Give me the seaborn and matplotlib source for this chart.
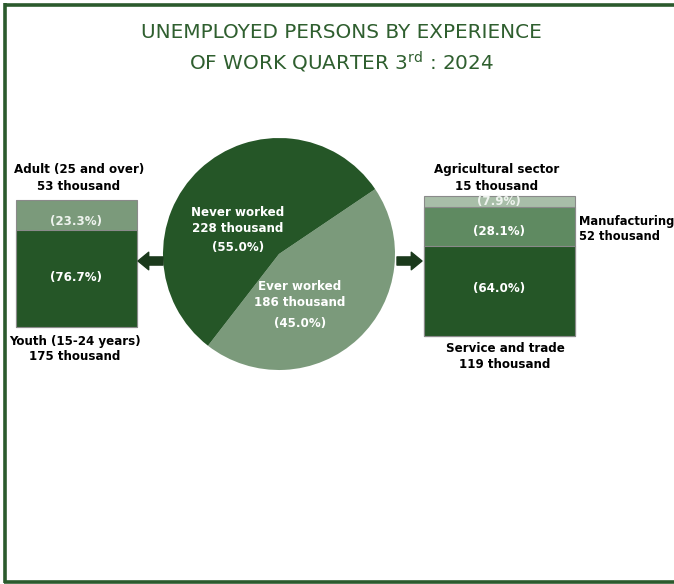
import matplotlib
matplotlib.use("Agg")
import matplotlib.pyplot as plt
import seaborn as sns
import pandas as pd
from matplotlib.lines import Line2D

sns.set_theme(style="white")
plt.rcParams["font.family"] = ["DejaVu Sans"]
plt.rcParams["mathtext.fontset"] = "custom"
plt.rcParams["mathtext.rm"] = "DejaVu Sans"

# ---------------- data ----------------
pie_labels = ["Ever worked", "Never worked"]
pie_thousand = [186, 228]
pie_pct = [45.0, 55.0]

left_labels = ["Youth (15-24 years)", "Adult (25 and over)"]
left_thousand = [175, 53]
left_pct = [76.7, 23.3]

right_labels = ["Service and trade", "Manufacturing", "Agricultural sector"]
right_thousand = [119, 52, 15]
right_pct = [64.0, 28.1, 7.9]

# ---------------- style ----------------
W, H = 674, 584
DARK = "#255627"
PIE_LIGHT = "#7b9a7b"
LEFT_LIGHT = "#7b9a7b"
MANUF = "#5f8a61"
AGRI = "#a8bea8"
TITLE_C = "#2f5f2f"
ARROW_C = "#1b3a1c"
FRAME_C = "#2b5a2d"

fig = plt.figure(figsize=(W / 100, H / 100), dpi=100)
fig.patch.set_facecolor("white")


def fx(x):
    return x / W


def fy(y):
    return 1 - y / H


def add_axes_px(x0, y0, x1, y1):
    return fig.add_axes([fx(x0), fy(y1), fx(x1 - x0), (y1 - y0) / H])


def stacked_bar(ax, pcts, colors):
    cum = pd.Series(pcts).cumsum().tolist()
    for top, col in reversed(list(zip(cum, colors))):
        df = pd.DataFrame({"g": ["a"], "v": [top]})
        sns.barplot(data=df, x="g", y="v", color=col, width=1.0, ax=ax,
                    edgecolor="#8a8a8a", linewidth=0.8, saturation=1, clip_on=False)
    ax.set_ylim(0, 100)
    ax.set_xlim(-0.5, 0.5)
    ax.axis("off")


# left stacked bar
axL = add_axes_px(16, 200, 137, 327)
stacked_bar(axL, left_pct, [DARK, LEFT_LIGHT])

# right stacked bar
axR = add_axes_px(424, 196, 575, 336)
stacked_bar(axR, right_pct, [DARK, MANUF, AGRI])

# pie
axP = add_axes_px(163, 138, 395, 370)
axP.pie(pie_thousand, colors=[PIE_LIGHT, DARK], startangle=34, counterclock=False,
        radius=1, wedgeprops=dict(linewidth=0))
axP.set_xlim(-1, 1)
axP.set_ylim(-1, 1)
axP.axis("off")

# ---------------- texts ----------------
bold = dict(fontsize=8.6, fontweight="bold", ha="center", va="center")


def t(x, y, s, color="black", **kw):
    d = dict(bold)
    d.update(kw)
    fig.text(fx(x), fy(y), s, color=color, **d)


# pie texts
t(238, 220, f"{pie_labels[1]}\n{pie_thousand[1]} thousand", color="white", linespacing=1.3)
t(238, 247, f"({pie_pct[1]:.1f}%)", color="white")
t(300, 295, f"{pie_labels[0]}\n{pie_thousand[0]} thousand", color="white", linespacing=1.3)
t(300, 324, f"({pie_pct[0]:.1f}%)", color="white")

# left bar texts
t(79, 178, f"{left_labels[1]}\n{left_thousand[1]} thousand", linespacing=1.3)
t(76, 221, f"({left_pct[1]:.1f}%)", color="#eef3ee")
t(76, 277, f"({left_pct[0]:.1f}%)", color="white")
t(75, 349, f"{left_labels[0]}\n{left_thousand[0]} thousand", linespacing=1.3)

# right bar texts
t(497, 178, f"{right_labels[2]}\n{right_thousand[2]} thousand", linespacing=1.3)
t(499, 201, f"({right_pct[2]:.1f}%)", color="#eef3ee")
t(499, 231, f"({right_pct[1]:.1f}%)", color="white")
t(499, 289, f"({right_pct[0]:.1f}%)", color="white")
t(579, 229, f"{right_labels[1]}\n{right_thousand[1]} thousand", ha="left",
  linespacing=1.3, fontsize=8.3)
t(505, 357, f"{right_labels[0]}\n{right_thousand[0]} thousand", linespacing=1.3)

# title
fig.text(fx(341), fy(33), "UNEMPLOYED PERSONS BY EXPERIENCE", color=TITLE_C,
         family="DejaVu Sans", fontsize=14.4, ha="center", va="center")
fig.text(fx(341), fy(62), r"OF WORK QUARTER 3$^{\mathrm{rd}}$ : 2024", color=TITLE_C,
         family="DejaVu Sans", fontsize=14.4, ha="center", va="center")

# arrows
arrow = dict(arrowstyle="simple,head_length=0.55,head_width=0.9,tail_width=0.42",
             color=ARROW_C, mutation_scale=14, shrinkA=0, shrinkB=0)
fig.add_artist(plt.Annotation("", xy=(138, H - 261), xytext=(163, H - 261),
                              xycoords="figure pixels", textcoords="figure pixels",
                              arrowprops=arrow))
fig.add_artist(plt.Annotation("", xy=(422, H - 261), xytext=(397, H - 261),
                              xycoords="figure pixels", textcoords="figure pixels",
                              arrowprops=arrow))

# frame
lw = 2.6
fig.add_artist(Line2D([fx(5), 1], [fy(4.5), fy(4.5)], color=FRAME_C, lw=lw,
                      solid_capstyle="butt"))
fig.add_artist(Line2D([fx(5), fx(5)], [fy(3.2), fy(583)], color=FRAME_C, lw=lw,
                      solid_capstyle="butt"))
fig.add_artist(Line2D([fx(4), 1], [fy(582), fy(582)], color=FRAME_C, lw=lw,
                      solid_capstyle="butt"))

fig.savefig("out.png", dpi=100)
